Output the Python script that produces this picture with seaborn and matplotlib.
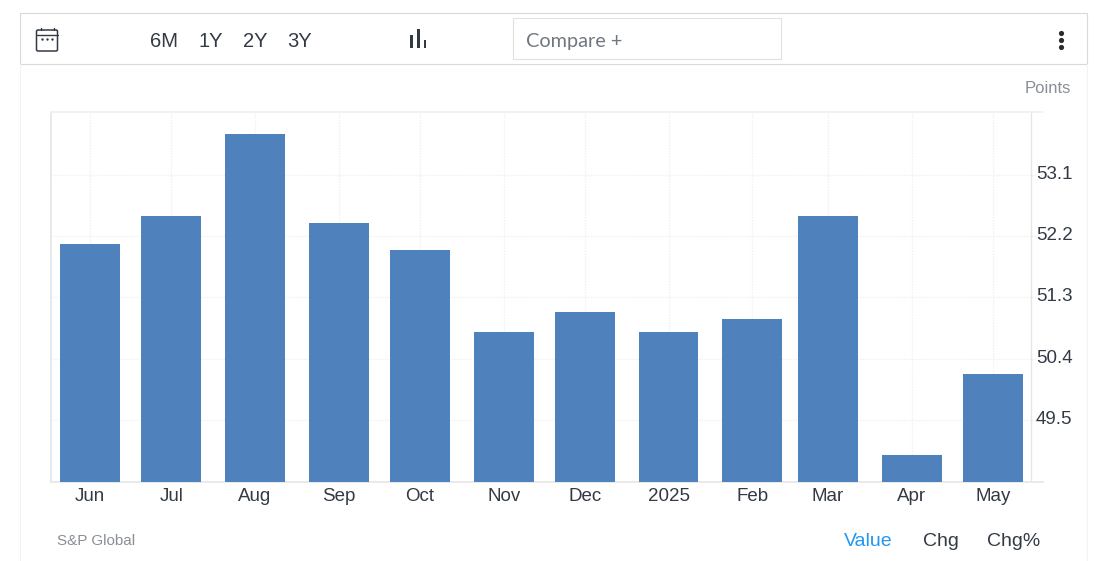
import matplotlib
matplotlib.use('Agg')
import matplotlib.pyplot as plt
import matplotlib.dates as mdates
from matplotlib.patches import Rectangle, FancyBboxPatch
from matplotlib.transforms import ScaledTranslation
import pandas as pd
import seaborn as sns

# data
months = ['2024-06-01', '2024-07-01', '2024-08-01', '2024-09-01', '2024-10-01', '2024-11-01',
          '2024-12-01', '2025-01-01', '2025-02-01', '2025-03-01', '2025-04-01', '2025-05-01']
values = [52.08, 52.49, 53.7, 52.39, 51.99, 50.79, 51.09, 50.79, 50.99, 52.49, 48.99, 50.18]
month_labels = ['Jun', 'Jul', 'Aug', 'Sep', 'Oct', 'Nov', 'Dec', '2025', 'Feb', 'Mar', 'Apr', 'May']
y_ticks = [49.5, 50.4, 51.3, 52.2, 53.1]
ranges = ['6M', '1Y', '2Y', '3Y']
tabs = ['Value', 'Chg', 'Chg%']

W, H = 1102, 561
BLUE = '#4f81bd'
GRID = '#f0f0f0'
DARK = '#333a45'

sns.set_theme(style='white')
plt.rcParams['font.family'] = ['Liberation Sans', 'DejaVu Sans']

fig = plt.figure(figsize=(W / 100, H / 100), dpi=100, facecolor='white')

# page furniture, in pixel coordinates
bg = fig.add_axes([0, 0, 1, 1], zorder=0)
bg.set_xlim(0, W)
bg.set_ylim(H, 0)
bg.axis('off')
bg.add_patch(Rectangle((19.5, 13), 1067, 51, fc='none', ec='#d9d9d9', lw=0.8))
bg.plot([19.5, 19.5], [64, H], c='#f3f3f3', lw=0.8)
bg.plot([1086.5, 1086.5], [64, H], c='#f3f3f3', lw=0.8)
bg.add_patch(Rectangle((513, 18), 268, 41, fc='none', ec='#e2e2dc', lw=0.8))
bg.text(526, 41, 'Compare +', family='Lato', fontsize=14.3, color='#6f7780', va='center')

# calendar icon
bg.add_patch(FancyBboxPatch((36.5, 30), 21, 21, boxstyle='round,pad=0,rounding_size=1.5',
                            fc='none', ec=DARK, lw=1.1))
bg.plot([36.5, 57.5], [34.5, 34.5], c=DARK, lw=1)
bg.plot([40.5, 40.5], [28, 30], c=DARK, lw=1)
bg.plot([53.5, 53.5], [28, 30], c=DARK, lw=1)
bg.scatter([42, 47, 52], [39, 39, 39], s=3, c=DARK, lw=0)

# bar chart icon
bg.add_patch(Rectangle((410, 35), 3, 13, fc=DARK, lw=0))
bg.add_patch(Rectangle((417, 29), 3, 19, fc=DARK, lw=0))
bg.add_patch(Rectangle((423.5, 40), 2.5, 8, fc=DARK, lw=0))

# menu dots
bg.scatter([1061, 1061, 1061], [33, 40, 47], s=14, c='#2b2b2b', lw=0)

for label, x in zip(ranges, [164, 210.5, 255, 300]):
    bg.text(x, 41, label, fontsize=14.5, color=DARK, ha='center', va='center')

bg.text(1070.5, 88, 'Points', fontsize=12, color='#8a8f96', ha='right', va='center')
bg.text(57, 541, 'S&P Global', fontsize=11, color='#8a8f96', va='center')
for label, x, col in zip(tabs, [868, 941, 1013.5], ['#2196f3', DARK, DARK]):
    bg.text(x, 541, label, fontsize=14, color=col, ha='center', va='center')

# main chart
left, right, top, bottom = 51, 1043, 112, 481.5
ax = fig.add_axes([left / W, 1 - bottom / H, (right - left) / W, (bottom - top) / H], zorder=1)
ax.patch.set_alpha(0)

df = pd.DataFrame({'month': mdates.date2num(pd.to_datetime(months)), 'value': values})
sns.barplot(data=df, x='month', y='value', native_scale=True, width=0.79, color=BLUE,
            saturation=1, ax=ax, zorder=3, linewidth=0)

px_per_day = 2.7
x0 = df['month'].iloc[0] - (90 - left) / px_per_day
x1 = df['month'].iloc[-1] + (right - 993) / px_per_day
ax.set_xlim(x0, x1)
ax.set_ylim(48.6, 54.02)

ax.set_xticks(df['month'])
ax.set_xticklabels(month_labels)
ax.set_yticks(y_ticks)
ax.set_yticklabels([f'{v:.1f}' for v in y_ticks])
ax.yaxis.tick_right()
ax.set_xlabel('')
ax.set_ylabel('')
ax.tick_params(axis='x', length=0, pad=4.5, labelsize=13.5, labelcolor=DARK)
ax.tick_params(axis='y', length=0, pad=-5, labelsize=13.5, labelcolor=DARK)
# value labels sit just above their grid lines
lift = ScaledTranslation(0, 0.6 / 100, fig.dpi_scale_trans)
for lab in ax.get_yticklabels():
    lab.set_verticalalignment('center')
    lab.set_transform(lab.get_transform() + lift)

ax.grid(True, color=GRID, lw=1, ls=(0, (1, 1)), zorder=0)
ax.set_axisbelow(True)
for name in ['left', 'right', 'top', 'bottom']:
    ax.spines[name].set_color('#e6e6e6')
ax.spines['right'].set_visible(False)
ax.spines['top'].set_linestyle((0, (1, 1)))
ax.spines['top'].set_color(GRID)
ax.spines['bottom'].set_linewidth(1.2)
# value axis line sits a little inside the right end of the plot
ax.axvline(x1 - 12 / px_per_day, color='#e6e6e6', lw=1, zorder=1)

fig.savefig('out.png', dpi=100)
